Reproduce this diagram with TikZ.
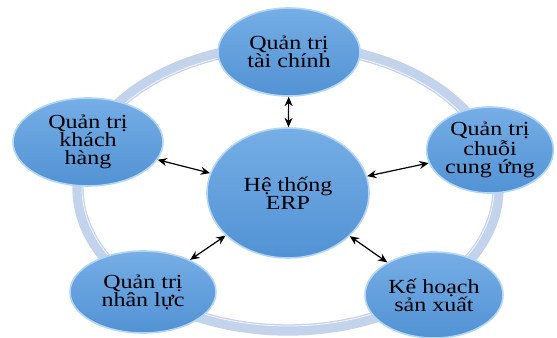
\documentclass[tikz,border=0pt]{standalone}
\usepackage{fontspec}
\setmainfont{Liberation Serif}[FakeStretch=1.2]
\usetikzlibrary{shapes.geometric,arrows.meta}
\definecolor{ringblue}{RGB}{196,211,236}
\definecolor{bubbletop}{RGB}{118,174,230}
\definecolor{bubblebot}{RGB}{82,146,212}
\definecolor{bubblerim}{RGB}{178,214,246}
\tikzset{
  bubble/.style={ellipse, draw=bubblerim, line width=1.2pt, top color=bubbletop,
    bottom color=bubblebot, inner sep=0pt, align=center, text=black,
    font=\fontsize{15}{13.6}\selectfont},
  link/.style={<->, >={Stealth[length=7pt,width=6pt]}, line width=0.9pt, black}
}
\begin{document}
\begin{tikzpicture}[x=0.75pt,y=0.75pt,yscale=-1,xscale=1]
    \useasboundingbox (0,0) rectangle (557,338);
    % Ring
    \draw [ringblue, line width=8.5pt] (288,188) ellipse (210 and 142);
    \draw [white, line width=0.6pt, opacity=0.8] (288,188) ellipse (206 and 138);
    % Ellipse Nodes
    \node [bubble, minimum width=0.75pt*162, minimum height=0.75pt*130] (erp) at (288,193) {Hệ thống\\ERP};
    \node [bubble, minimum width=0.75pt*142, minimum height=0.75pt*88] (fin) at (289,52) {Quản trị\\tài chính};
    \node [bubble, minimum width=0.75pt*124, minimum height=0.75pt*86] (supply) at (490,150) {Quản trị\\chuỗi\\cung ứng};
    \node [bubble, minimum width=0.75pt*150, minimum height=0.75pt*88] (cust) at (88,142) {Quản trị\\khách\\hàng};
    \node [bubble, minimum width=0.75pt*146, minimum height=0.75pt*82] (hr) at (143,292) {Quản trị\\nhân lực};
    \node [bubble, minimum width=0.75pt*138, minimum height=0.75pt*86] (prod) at (434,295) {Kế hoạch\\sản xuất};
    % Arrows
    \draw [link] (erp) -- (fin);
    \draw [link] (erp) -- (supply);
    \draw [link] (erp) -- (cust);
    \draw [link] (erp) -- (hr);
    \draw [link] (erp) -- (prod);
\end{tikzpicture}
\end{document}
